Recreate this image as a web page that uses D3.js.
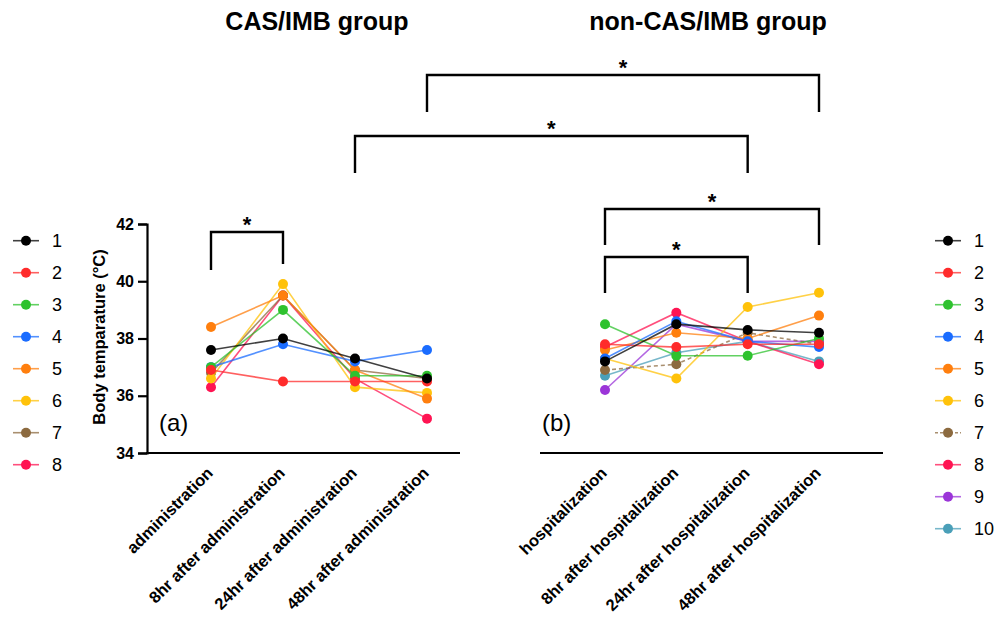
<!DOCTYPE html>
<html>
<head>
<meta charset="utf-8">
<script src="https://cdn.jsdelivr.net/npm/d3@7"></script>
<style>
  body { margin: 0; background: #fff; }
  text { font-family: Arial, "Liberation Sans", sans-serif; }
</style>
</head>
<body>
<script>
// categories
var catsA = ["administration", "8hr after administration", "24hr after administration", "48hr after administration"];
var catsB = ["hospitalization", "8hr after hospitalization", "24hr after hospitalization", "48hr after hospitalization"];

// CAS/IMB group, patients 1..8
var casValues = [
  [37.6, 38.0, 37.3, 36.6],
  [36.9, 36.5, 36.5, 36.5],
  [37.0, 39.0, 36.7, 36.7],
  [37.0, 37.8, 37.2, 37.6],
  [38.4, 39.5, 36.9, 35.9],
  [36.6, 39.9, 36.3, 36.1],
  [36.8, 39.5, 36.9, 36.6],
  [36.3, 39.5, 36.6, 35.2]
];

// non-CAS/IMB group, patients 1..10
var nonValues = [
  [37.2, 38.5, 38.3, 38.2],
  [37.8, 37.7, 37.8, 37.8],
  [38.5, 37.4, 37.4, 38.0],
  [37.3, 38.6, 37.9, 37.7],
  [37.6, 38.2, 38.0, 38.8],
  [37.3, 36.6, 39.1, 39.6],
  [36.9, 37.1, 38.2, 37.8],
  [37.7, 38.9, 37.9, 37.1],
  [36.2, 38.5, 37.9, 37.9],
  [36.7, 37.5, 37.9, 37.2]
];

var colors = ["#000000", "#ff2b2b", "#2ec22e", "#1a6cff", "#ff7f0e", "#ffc20a", "#8c6a3f", "#ff1452", "#9b35d8", "#4a9fb8"];
var yTicks = [34, 36, 38, 40, 42];

var width = 997, height = 617;
var svg = d3.select("body").append("svg").attr("width", width).attr("height", height);

var y = d3.scaleLinear().domain([34, 42]).range([453, 224]);
var xA = d3.scalePoint().domain(catsA).range([211, 427]);
var xB = d3.scalePoint().domain(catsB).range([605, 819]);

// y axis
svg.append("g")
  .attr("transform", "translate(147,0)")
  .call(d3.axisLeft(y).tickValues(yTicks).tickSize(9).tickPadding(4))
  .call(function(g) {
    g.select(".domain").attr("stroke-width", 2.2);
    g.selectAll(".tick line").attr("stroke-width", 2.2);
    g.selectAll(".tick text").attr("font-size", 16).attr("font-weight", "bold")
      .attr("font-family", "Arial, 'Liberation Sans', sans-serif").attr("fill", "#000");
  });

svg.append("text")
  .attr("transform", "translate(105,337) rotate(-90)")
  .attr("text-anchor", "middle")
  .attr("font-size", 16.5).attr("font-weight", "bold")
  .text("Body temparature (°C)");

// x axes (lines only)
svg.append("line").attr("x1", 146).attr("x2", 460).attr("y1", y(34)).attr("y2", y(34))
  .attr("stroke", "#000").attr("stroke-width", 2.2);
svg.append("line").attr("x1", 540).attr("x2", 883).attr("y1", y(34)).attr("y2", y(34))
  .attr("stroke", "#000").attr("stroke-width", 2.2);

function xLabels(scale, cats) {
  svg.append("g").selectAll("text").data(cats).enter().append("text")
    .attr("transform", function(d) { return "translate(" + (scale(d) + 3) + ",474) rotate(-45)"; })
    .attr("text-anchor", "end")
    .attr("font-size", 16.5).attr("font-weight", "bold")
    .text(function(d) { return d; });
}
xLabels(xA, catsA);
xLabels(xB, catsB);

// series
function drawSeries(scale, cats, values) {
  var line = d3.line()
    .x(function(d, i) { return scale(cats[i]); })
    .y(function(d) { return y(d); });
  var g = svg.append("g");
  // patient 1 drawn last (on top)
  for (var k = values.length - 1; k >= 0; k--) {
    var s = g.append("g");
    s.append("path").attr("d", line(values[k]))
      .attr("fill", "none").attr("stroke", colors[k])
      .attr("stroke-width", 1.6).attr("stroke-opacity", 0.75)
      .attr("stroke-dasharray", (k == 6 && values.length == 10) ? "4,3" : null);
    s.selectAll("circle").data(values[k]).enter().append("circle")
      .attr("cx", function(d, i) { return scale(cats[i]); })
      .attr("cy", function(d) { return y(d); })
      .attr("r", 5).attr("fill", colors[k]);
  }
}
drawSeries(xA, catsA, casValues);
drawSeries(xB, catsB, nonValues);

// panel labels
svg.append("text").attr("x", 159).attr("y", 431).attr("font-size", 24).text("(a)");
svg.append("text").attr("x", 542).attr("y", 431).attr("font-size", 24).text("(b)");

// titles
svg.append("text").attr("x", 317).attr("y", 30).attr("text-anchor", "middle")
  .attr("font-family", "'Noto Sans CJK JP', 'Noto Sans', sans-serif")
  .attr("font-size", 25).attr("font-weight", "bold").text("CAS/IMB group");
svg.append("text").attr("x", 708).attr("y", 30).attr("text-anchor", "middle")
  .attr("font-family", "'Noto Sans CJK JP', 'Noto Sans', sans-serif")
  .attr("font-size", 25).attr("font-weight", "bold").text("non-CAS/IMB group");

// significance brackets
var brackets = [
  { x1: xA(catsA[0]), x2: xA(catsA[1]), top: 232, b1: 270, b2: 264 },
  { x1: xA(catsA[2]), x2: xB(catsB[2]), top: 136, b1: 173, b2: 173 },
  { x1: xA(catsA[3]), x2: xB(catsB[3]), top: 75, b1: 112, b2: 112 },
  { x1: xB(catsB[0]), x2: xB(catsB[3]), top: 209, b1: 245, b2: 245 },
  { x1: xB(catsB[0]), x2: xB(catsB[2]), top: 257, b1: 293, b2: 293 }
];
brackets.forEach(function(b) {
  svg.append("path")
    .attr("d", "M" + b.x1 + "," + b.b1 + "V" + b.top + "H" + b.x2 + "V" + b.b2)
    .attr("fill", "none").attr("stroke", "#000").attr("stroke-width", 2.4);
  svg.append("text").attr("x", (b.x1 + b.x2) / 2).attr("y", b.top)
    .attr("text-anchor", "middle").attr("font-size", 22).attr("font-weight", "bold").text("*");
});

// legends
function legend(x0, n, dashed) {
  var g = svg.append("g");
  for (var i = 0; i < n; i++) {
    var yy = 240.7 + i * 32;
    g.append("line").attr("x1", x0).attr("x2", x0 + 26).attr("y1", yy).attr("y2", yy)
      .attr("stroke", colors[i]).attr("stroke-width", 1.6).attr("stroke-opacity", 0.75)
      .attr("stroke-dasharray", (dashed && i == 6) ? "3,2" : null);
    g.append("circle").attr("cx", x0 + 13).attr("cy", yy).attr("r", 5).attr("fill", colors[i]);
    g.append("text").attr("x", x0 + 39).attr("y", yy + 6.5).attr("font-size", 18).text(i + 1);
  }
}
legend(13, casValues.length, false);
legend(935, nonValues.length, true);
</script>
</body>
</html>
